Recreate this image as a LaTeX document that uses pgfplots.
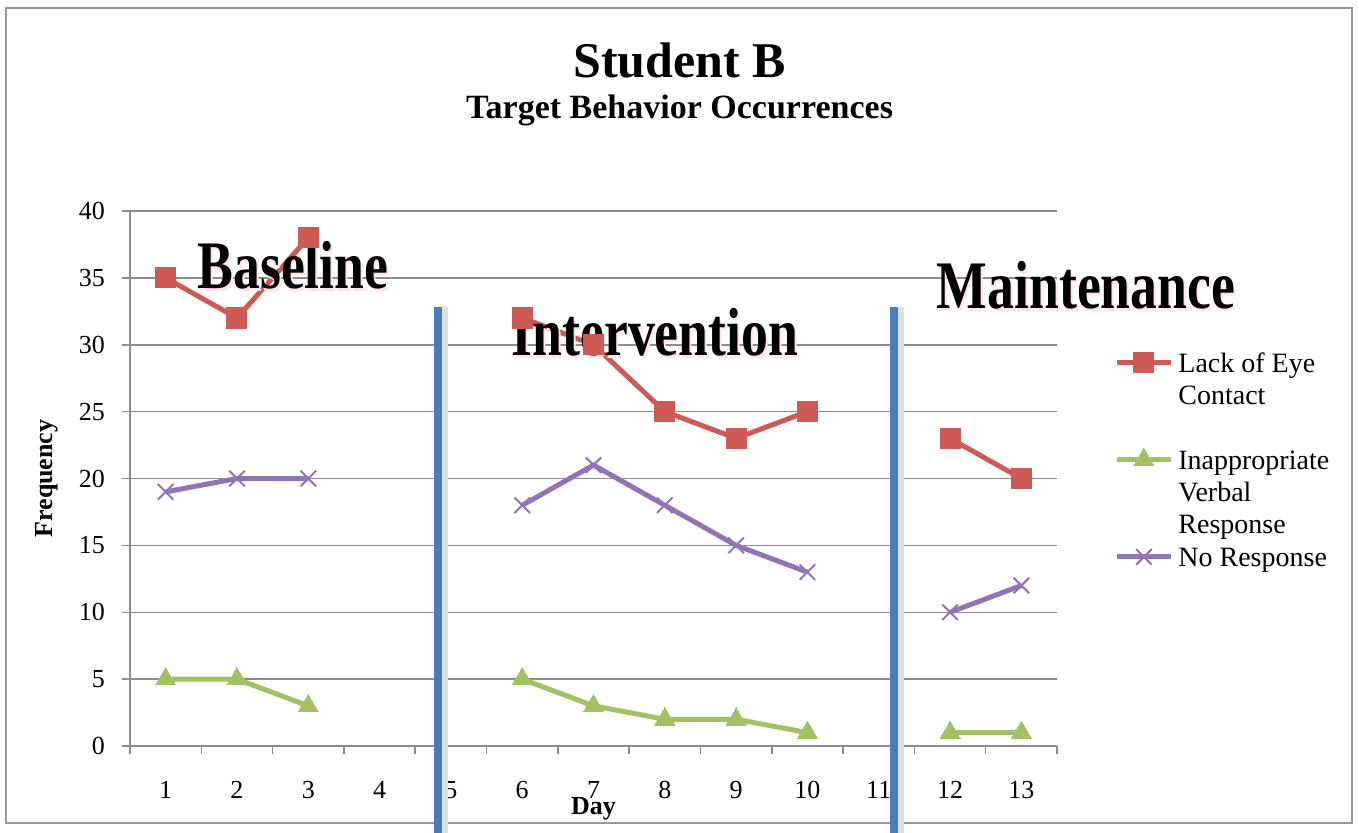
\documentclass[border=0pt]{standalone}
\usepackage{fontspec}
\setmainfont{Liberation Serif}
\usepackage{graphicx}
\usepackage{pgfplots}
\pgfplotsset{compat=1.18}
\definecolor{cRed}{RGB}{206,90,86}
\definecolor{cGreen}{RGB}{162,193,100}
\definecolor{cPurple}{RGB}{146,116,182}
\definecolor{cBlue}{RGB}{74,126,187}
\definecolor{cGrid}{RGB}{140,140,140}
\newcommand{\phaselabel}[1]{\scalebox{0.79}[1]{#1}}
\newcommand{\legtext}[1]{\raisebox{0pt}[\height][0pt]{\parbox[t]{110pt}{#1}}}
\begin{document}
\begin{tikzpicture}
\useasboundingbox (0,0) rectangle (679.5pt,-416.5pt);
\draw[black!40, line width=1pt] (3pt,-4pt) rectangle (676pt,-411.5pt);
\node[anchor=base, font=\bfseries\fontsize{25}{30}\selectfont] at (339.75pt,-39pt) {Student B};
\node[anchor=base, font=\bfseries\fontsize{17}{20}\selectfont] at (339.75pt,-59.5pt) {Target Behavior Occurrences};
\begin{axis}[
  at={(65pt,-373pt)}, anchor=south west,
  scale only axis, width=463.5pt, height=267.5pt,
  xmin=0.5, xmax=13.5, ymin=0, ymax=40,
  clip=false,
  axis x line*=bottom, axis y line*=left,
  axis line style={cGrid, line width=0.75pt, -},
  xtick={1,...,13},
  major x tick style={draw=none},
  minor xtick={0.5,1.5,...,13.5},
  minor x tick style={cGrid, line width=0.75pt},
  minor tick length=4pt,
  ytick={0,5,...,40},
  y tick style={cGrid, line width=0.75pt},
  major tick length=4pt,
  tick align=outside,
  ymajorgrids, grid style={cGrid, line width=0.75pt},
  /pgf/number format/assume math mode=true,
  ticklabel style={font=\fontsize{13}{15}\selectfont},
  xticklabel style={anchor=base, yshift=-22pt},
  yticklabel style={anchor=east, xshift=-5pt},
  xlabel={\textbf{Day}},
  xlabel style={at={(axis description cs:0.5,-0.118)}, anchor=center, font=\fontsize{13}{15}\selectfont},
  ylabel={\textbf{Frequency}},
  ylabel style={at={(axis description cs:-0.09,0.5)}, anchor=center, font=\fontsize{13}{15}\selectfont},
  unbounded coords=jump,
  legend image code/.code={\draw[mark repeat=2,mark phase=2,#1] plot coordinates {(0pt,5pt)(13.5pt,5pt)(27pt,5pt)};},
  legend style={at={(rel axis cs:1.0615,0.744)}, anchor=north west, draw=none, fill=none,
    font=\fontsize{14}{16}\selectfont, inner sep=0pt, row sep=34pt, column sep=0.5pt,
    cells={anchor=base west}},
]
\addplot[cRed, line width=2.5pt, mark=square*, mark size=5pt, mark options={solid, fill=cRed, draw=cRed, line width=0pt}]
  coordinates {(1,35)(2,32)(3,38)(4,nan)(6,32)(7,30)(8,25)(9,23)(10,25)(11,nan)(12,23)(13,20)};
\addlegendentry{\legtext{Lack of Eye\\Contact}}
\addplot[cGreen, line width=2.5pt, mark=triangle*, mark size=5.8pt, mark options={solid, fill=cGreen, draw=cGreen, line width=0pt}]
  coordinates {(1,5)(2,5)(3,3)(4,nan)(6,5)(7,3)(8,2)(9,2)(10,1)(11,nan)(12,1)(13,1)};
\addlegendentry{\legtext{Inappropriate\\Verbal\\Response}}
\addplot[cPurple, line width=2.5pt, mark=x, mark size=5.5pt, mark options={solid, draw=cPurple, line width=1pt}]
  coordinates {(1,19)(2,20)(3,20)(4,nan)(6,18)(7,21)(8,18)(9,15)(10,13)(11,nan)(12,10)(13,12)};
\addlegendentry{\legtext{No Response}}
% phase lines
\draw[black!12, line width=3pt] ([xshift=3.5pt]axis cs:4.82,32.8) -- ([xshift=3.5pt]axis cs:4.82,-6.7);
\draw[black!12, line width=3pt] ([xshift=3.5pt]axis cs:11.21,32.8) -- ([xshift=3.5pt]axis cs:11.21,-6.7);
\draw[cBlue, line width=4pt] (axis cs:4.82,32.8) -- (axis cs:4.82,-6.7);
\draw[cBlue, line width=4pt] (axis cs:11.21,32.8) -- (axis cs:11.21,-6.7);
% phase labels
\node[text=red!10, font=\bfseries\fontsize{34}{34}\selectfont, xshift=1pt, yshift=-1.5pt] at (axis cs:2.786,35.96) {\phaselabel{Baseline}};
\node[font=\bfseries\fontsize{34}{34}\selectfont] at (axis cs:2.786,35.96) {\phaselabel{Baseline}};
\node[text=red!10, font=\bfseries\fontsize{34}{34}\selectfont, xshift=1pt, yshift=-1.5pt] at (axis cs:7.862,30.9) {\phaselabel{Intervention}};
\node[font=\bfseries\fontsize{34}{34}\selectfont] at (axis cs:7.862,30.9) {\phaselabel{Intervention}};
\node[text=red!10, font=\bfseries\fontsize{34}{34}\selectfont, xshift=1pt, yshift=-1.5pt] at (axis cs:13.906,34.47) {\phaselabel{Maintenance}};
\node[font=\bfseries\fontsize{34}{34}\selectfont] at (axis cs:13.906,34.47) {\phaselabel{Maintenance}};
\end{axis}
\end{tikzpicture}
\end{document}
